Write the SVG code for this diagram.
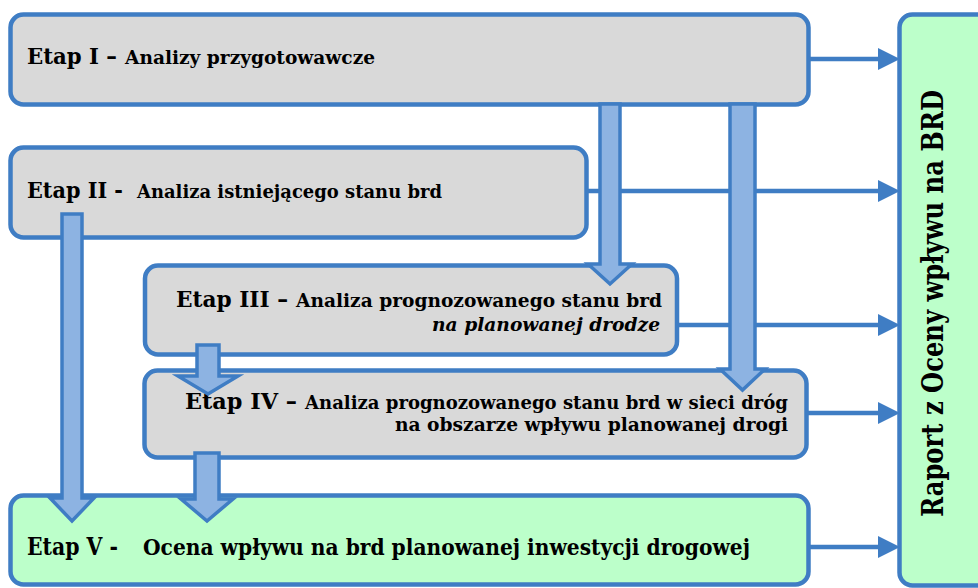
<svg xmlns="http://www.w3.org/2000/svg" width="978" height="588" viewBox="0 0 978 588">
<style>
.box{stroke:#3F7DC4;stroke-width:4.5}
.gray{fill:#D9D9D9}
.green{fill:#BCFFCA}
.t{font-family:"DejaVu Serif","Liberation Serif",serif;font-weight:bold;fill:#000}
.big{font-size:23px}
.sm{font-size:19px}
.line{stroke:#3F7DC4;stroke-width:4.5;fill:none}
.blk{fill:#8DB3E2;stroke:#3F7DC4;stroke-width:3.5;stroke-linejoin:miter}
</style>
<defs>
<marker id="ah" markerUnits="userSpaceOnUse" markerWidth="24" markerHeight="24" refX="12" refY="11" orient="auto">
<path d="M0,0 L22,11 L0,22 Z" fill="#3F7DC4"/>
</marker>
</defs>
<rect width="978" height="588" fill="#fff"/>
<g id="nodes">
<g id="etap1">
<rect class="box gray" x="10.5" y="14.5" width="798" height="90" rx="13"/>
<text class="t big" x="27" y="64" textLength="90" lengthAdjust="spacingAndGlyphs">Etap I –</text>
<text class="t sm" x="125" y="64" textLength="250" lengthAdjust="spacingAndGlyphs">Analizy przygotowawcze</text>
</g>
<g id="etap2">
<rect class="box gray" x="10.5" y="147.5" width="576" height="90" rx="13"/>
<text class="t big" x="27" y="198" textLength="96" lengthAdjust="spacingAndGlyphs">Etap II -</text>
<text class="t sm" x="137" y="198" textLength="305" lengthAdjust="spacingAndGlyphs">Analiza istniejącego stanu brd</text>
</g>
<g id="etap3">
<rect class="box gray" x="145" y="265.5" width="532" height="89" rx="13"/>
<text class="t big" x="176" y="307" textLength="112" lengthAdjust="spacingAndGlyphs">Etap III –</text>
<text class="t sm" x="296" y="307" textLength="366" lengthAdjust="spacingAndGlyphs">Analiza prognozowanego stanu brd</text>
<text class="t sm" x="432" y="331" textLength="228" lengthAdjust="spacingAndGlyphs" font-style="italic">na planowanej drodze</text>
</g>
<g id="etap4">
<rect class="box gray" x="144.5" y="370.5" width="662" height="87" rx="13"/>
<text class="t big" x="185" y="409" textLength="112" lengthAdjust="spacingAndGlyphs">Etap IV –</text>
<text class="t sm" x="305" y="409" textLength="483" lengthAdjust="spacingAndGlyphs">Analiza prognozowanego stanu brd w sieci dróg</text>
<text class="t sm" x="395" y="431" textLength="393" lengthAdjust="spacingAndGlyphs">na obszarze wpływu planowanej drogi</text>
</g>
<g id="etap5">
<rect class="box green" x="10.5" y="495.5" width="798" height="89" rx="13"/>
<text class="t" font-size="24" x="27" y="555" textLength="91" lengthAdjust="spacingAndGlyphs">Etap V -</text>
<text class="t" font-size="22" x="143" y="555" textLength="607" lengthAdjust="spacingAndGlyphs">Ocena wpływu na brd planowanej inwestycji drogowej</text>
</g>
<g id="raport">
<rect class="box green" x="899.5" y="14.5" width="110" height="571" rx="13"/>
<text class="t" font-size="29" transform="translate(943,517) rotate(-90)" x="0" y="0" textLength="427" lengthAdjust="spacingAndGlyphs">Raport  z Oceny wpływu na BRD</text>
</g>
</g>
<g id="connectors">
<line class="line" x1="809" y1="59" x2="890" y2="59" marker-end="url(#ah)"/>
<line class="line" x1="587" y1="191" x2="890" y2="191" marker-end="url(#ah)"/>
<line class="line" x1="677" y1="325" x2="890" y2="325" marker-end="url(#ah)"/>
<line class="line" x1="807" y1="413" x2="890" y2="413" marker-end="url(#ah)"/>
<line class="line" x1="809" y1="547" x2="890" y2="547" marker-end="url(#ah)"/>
<path class="blk" d="M600,104 H620 V264 H632 L610,284 L588,264 H600 Z"/>
<path class="blk" d="M730,104 H755 V369 H765 L742.5,390 L720,369 H730 Z"/>
<path class="blk" d="M62,214 H82 V498 H94 L72,521 L50,498 H62 Z"/>
<path class="blk" d="M197,345 H219 V376 H238 L208,394 L178,376 H197 Z"/>
<path class="blk" d="M195,453 H219 V499 H233 L207,521 L181,499 H195 Z"/>
</g>
</svg>
